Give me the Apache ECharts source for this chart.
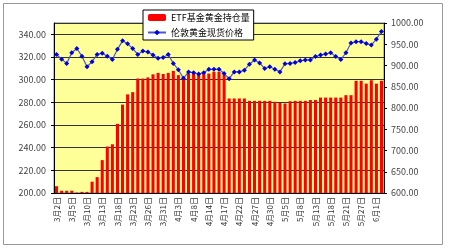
<!DOCTYPE html>
<html><head><meta charset="utf-8">
<script src="https://cdn.jsdelivr.net/npm/echarts@6/dist/echarts.min.js"></script>
<style>html,body{margin:0;padding:0;background:#fff}#c{width:450px;height:250px}</style>
</head><body><div id="c"></div>
<script>
var categories = ["3月2日","3月3日","3月4日","3月5日","3月6日","3月9日","3月10日","3月11日","3月12日","3月13日","3月16日","3月17日","3月18日","3月19日","3月20日","3月23日","3月24日","3月25日","3月26日","3月27日","3月30日","3月31日",
"4月1日","4月2日","4月3日","4月6日","4月7日","4月8日","4月9日","4月13日","4月14日","4月15日","4月16日","4月17日","4月20日","4月21日","4月22日","4月23日","4月24日","4月27日","4月28日","4月29日","4月30日",
"5月1日","5月4日","5月5日","5月6日","5月7日","5月8日","5月11日","5月12日","5月13日","5月14日","5月15日","5月18日","5月19日","5月20日","5月21日","5月22日","5月26日","5月27日","5月28日","5月29日",
"6月1日","6月2日"];
var etfHoldings = [206,202,202,202,200.3,201,201,210,214,229,241,243,261,278,287,289,301,301,302,304.7,306,305,306,307.7,304,303,305.4,307,305.4,305.4,305.4,307,307,304,283.4,283.4,283.4,283.4,281.3,281.3,281.3,281.3,281.3,280.5,279.5,279,281,281.3,281.3,281.3,282,282,284.2,284.2,284.2,284.2,284.2,286.3,286.3,299,299,296.5,299.5,296.5,299];
var goldPrice = [926,915,905,930,940,922,897,909,926,929,922,914,938,958,951,940,926,934,932,925,917,919,926,905,890,870,885,883,880,883,891,891,891,881,869,885,885,889,903,913,906,893,897,891,885,904,905,907,911,913,913,921,925,927,930,921,914,930,953,956,956,952,948,962,980];
var seriesNames = ["ETF基金黄金持仓量","伦敦黄金现货价格"];

var chart = echarts.init(document.getElementById('c'));
var font = "'SimSun','Noto Sans CJK SC',sans-serif";
chart.setOption({
  animation: false,
  backgroundColor: '#fff',
  graphic: [{type:'rect', shape:{x:3.5,y:3.5,width:439,height:241}, style:{fill:'none', stroke:'#999', lineWidth:1}, silent:true}],
  legend: {
    orient: 'vertical', left: 143, top: 10,
    backgroundColor: '#fff', borderColor: '#000', borderWidth: 1,
    padding: [3, 4, 3, 4], itemGap: 6, itemWidth: 18, itemHeight: 7,
    textStyle: {fontSize: 9, color: '#000', fontFamily: font},
    data: seriesNames
  },
  grid: {left: 54, right: 66, top: 23, bottom: 57, show: true, backgroundColor: '#FFFF99', borderColor: '#808080', borderWidth: 1},
  xAxis: {
    type: 'category', data: categories, boundaryGap: true,
    axisLine: {show: true, lineStyle: {color: '#000'}},
    axisTick: {show: false},
    axisLabel: {interval: 2, rotate: 90, fontSize: 8, color: '#333', fontFamily: font, margin: 4}
  },
  yAxis: [{
    type: 'value', min: 200, max: 350, interval: 20, position: 'left',
    axisLine: {show: true, lineStyle: {color: '#000'}},
    axisTick: {show: true, length: 3, lineStyle: {color: '#000'}},
    axisLabel: {showMaxLabel: false, fontSize: 9, color: '#444', fontFamily: font, margin: 8,
      formatter: function(v){ return v.toFixed(2); }},
    splitLine: {show: true, lineStyle: {color: '#333', width: 1}}
  }, {
    type: 'value', min: 600, max: 1000, interval: 50, position: 'right',
    axisLine: {show: true, lineStyle: {color: '#000'}},
    axisTick: {show: true, length: 3, lineStyle: {color: '#000'}},
    axisLabel: {fontSize: 9, color: '#444', fontFamily: font, margin: 7,
      formatter: function(v){ return v.toFixed(2); }},
    splitLine: {show: false}
  }],
  series: [{
    name: seriesNames[0], type: 'bar', yAxisIndex: 0, data: etfHoldings,
    barWidth: '60%', itemStyle: {color: '#FF0000'}
  }, {
    name: seriesNames[1], type: 'line', yAxisIndex: 1, data: goldPrice,
    symbol: 'diamond', symbolSize: 5, showSymbol: true, showAllSymbol: true,
    lineStyle: {color: '#4858c8', width: 1.2},
    itemStyle: {color: '#0000E0'}
  }]
});
</script></body></html>
